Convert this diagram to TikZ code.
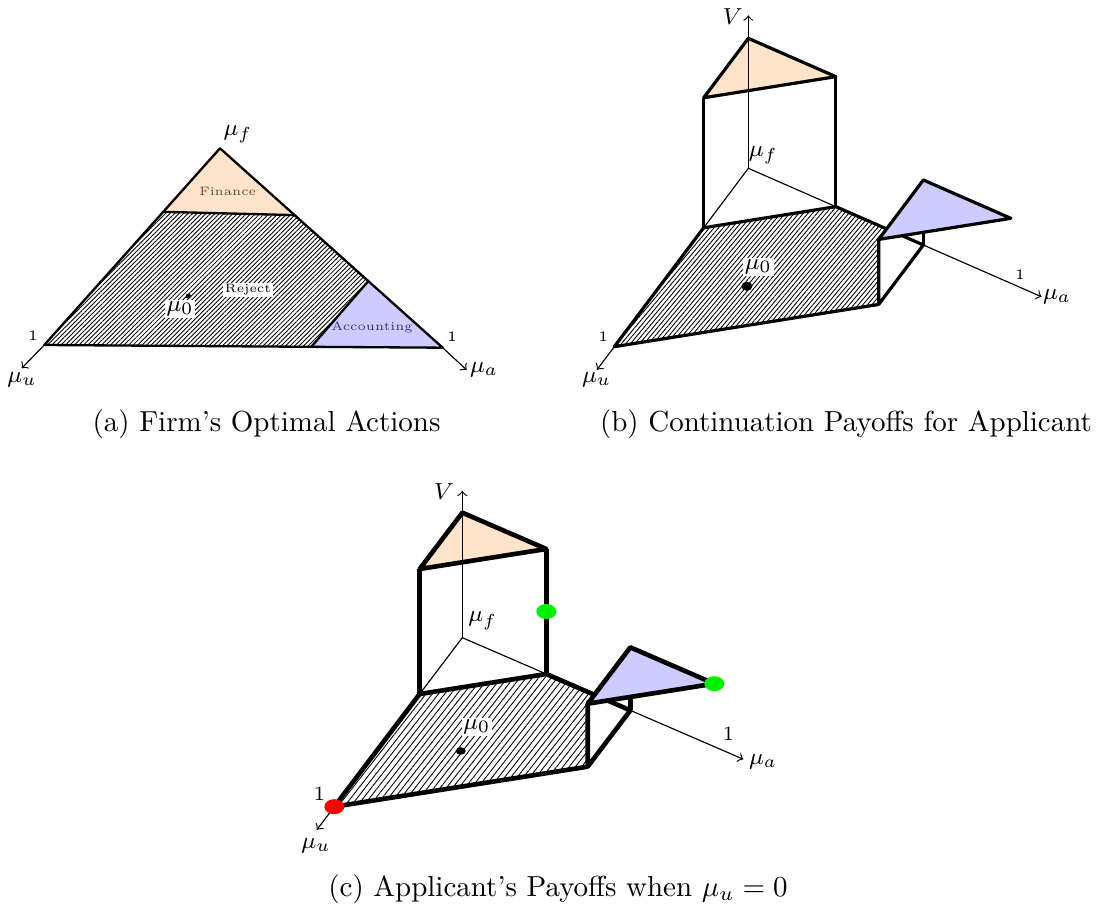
\documentclass[tikz,border=0pt]{standalone}
\usetikzlibrary{calc,patterns.meta}
\definecolor{finfill}{RGB}{255,228,202}
\definecolor{accfill}{RGB}{204,204,255}
\definecolor{fintext}{RGB}{100,72,50}
\definecolor{acctext}{RGB}{55,55,110}
\definecolor{dotgreen}{RGB}{0,240,0}
\definecolor{dotred}{RGB}{250,0,0}
\tikzset{
  edgeA/.style={thick, line join=round},
  edgeB/.style={line width=1.1pt, line join=round},
  edgeC/.style={line width=1.6pt, line join=round},
  axisline/.style={thin, ->, >=to},
  lab/.style={font=\footnotesize, inner sep=1pt},
  tinylab/.style={font=\tiny, inner sep=1pt},
  regionlab/.style={font=\fontsize{4.2}{5}\selectfont, inner sep=0.8pt},
  smalllab/.style={font=\scriptsize, inner sep=1pt},
  caplab/.style={font=\normalsize, inner sep=0pt},
  wbox/.style={fill=white, inner sep=0.6pt},
  hatchA/.style={pattern={Lines[angle=45,distance=1.1pt,line width=0.3pt]}},
  hatchB/.style={pattern={Lines[angle=50,distance=1.2pt,line width=0.3pt]}},
  hatchC/.style={pattern={Lines[angle=52,distance=1.7pt,line width=0.3pt]}},
}
\begin{document}
\begin{tikzpicture}[x=0.345pt, y=-0.345pt]
\useasboundingbox (0,0) rectangle (1097,911);

% ================= Panel (a) =================
\coordinate (Fa) at (220,148.3);
\coordinate (Ua) at (44.3,345);
\coordinate (Aa) at (442.7,347.7);
\coordinate (FUa) at ($(Fa)!0.323!(Ua)$);
\coordinate (FAa) at ($(Fa)!0.335!(Aa)$);
\coordinate (AFa) at ($(Aa)!0.334!(Fa)$);
\coordinate (AUa) at ($(Aa)!0.33!(Ua)$);
\coordinate (UaTip) at (21.7,368.3);
\coordinate (AaTip) at (466.7,370);

\fill[finfill] (Fa) -- (FUa) -- (FAa) -- cycle;
\fill[accfill] (Aa) -- (AFa) -- (AUa) -- cycle;
\fill[hatchA] (FUa) -- (FAa) -- (AFa) -- (AUa) -- (Ua) -- cycle;
\node[regionlab, text=fintext] (finA) at (227.7,191) {Finance};
\node[regionlab, text=acctext] (accA) at (372,327.3) {Accounting};
\node[regionlab, wbox] (rejA) at (248,290) {Reject};
\draw[edgeA] (Fa) -- (Ua) -- (Aa) -- cycle;
\draw[edgeA] (FUa) -- (FAa);
\draw[edgeA] (AFa) -- (AUa);
\draw[axisline] (Ua) -- (UaTip);
\draw[axisline] (Aa) -- (AaTip);
\node[lab] (mufA) at (238,134) {$\mu_f$};
\node[lab] (muuA) at (22,380) {$\mu_u$};
\node[lab] (muaA) at (484,370) {$\mu_a$};
\node[tinylab] (oneUA) at (33,336) {1};
\node[tinylab] (oneAA) at (452,337) {1};
\fill (188.3,296) circle[radius=2.6] coordinate (mu0A);
\node[lab, wbox] (mu0LA) at (180,309) {$\mu_0$};

% ================= Panel (b) =================
\coordinate (Ob) at (748.33,168.33);
\coordinate (Ub) at (614.33,346.67);
\coordinate (Ab) at (1010.83,283.33);
\coordinate (F1b) at ($(Ob)!0.3333!(Ub)$);
\coordinate (F2b) at ($(Ob)!0.3333!(Ab)$);
\coordinate (P2b) at ($(Ob)!0.6667!(Ab)$);
\coordinate (Qb) at ($(Ab)!0.3333!(Ub)$);
\coordinate (ObT) at ($(Ob)+(0,-130)$);
\coordinate (F1bT) at ($(F1b)+(0,-130)$);
\coordinate (F2bT) at ($(F2b)+(0,-130)$);
\coordinate (P2bT) at ($(P2b)+(0,-65)$);
\coordinate (QbT) at ($(Qb)+(0,-65)$);
\coordinate (AbT) at ($(Ab)+(0,-65)$);
\coordinate (VbTip) at ($(Ob)+(0,-153)$);
\coordinate (UbTip) at ($(Ob)!1.13!(Ub)$);
\coordinate (AbTip) at ($(Ob)!1.117!(Ab)$);

\draw[axisline] (Ob) -- (UbTip);
\draw[axisline] (Ob) -- (AbTip);
\fill[hatchB] (Ub) -- (F1b) -- (F2b) -- (P2b) -- (Qb) -- cycle;
\fill[white] (Qb) -- (P2b) -- (P2bT) -- (QbT) -- cycle;
\fill[finfill] (ObT) -- (F1bT) -- (F2bT) -- cycle;
\draw[axisline] (Ob) -- (VbTip);
\draw[edgeB] (Qb) -- (Ub) -- (F1b) -- (F2b) -- (P2b) -- (Qb) -- (QbT);
\draw[edgeB] (P2b) -- (P2bT);
\draw[edgeB] (F1b) -- (F1bT);
\draw[edgeB] (F2b) -- (F2bT);
\draw[edgeB] (ObT) -- (F1bT) -- (F2bT) -- cycle;
\filldraw[fill=accfill, edgeB] (P2bT) -- (QbT) -- (AbT) -- cycle;
\node[lab] (Vb) at (732.7,16.7) {$V$};
\node[lab] (mufB) at (763.3,155) {$\mu_f$};
\node[lab] (muuB) at (596.7,380) {$\mu_u$};
\node[lab] (muaB) at (1057,297) {$\mu_a$};
\node[tinylab] (oneUB) at (603.3,336.7) {1};
\node[tinylab] (oneAB) at (1020,275) {1};
\fill (746.9,286.3) ellipse[x radius=5.5, y radius=4.6] coordinate (mu0B);
\node[lab, wbox] (mu0LB) at (758.3,266.7) {$\mu_0$};

% ================= Panel (c) =================
\coordinate (Oc) at (462.33,637.67);
\coordinate (Uc) at ($(Oc)+(-128,169)$);
\coordinate (Ac) at ($(Oc)+(252,109)$);
\coordinate (F1c) at ($(Oc)!0.3333!(Uc)$);
\coordinate (F2c) at ($(Oc)!0.3333!(Ac)$);
\coordinate (P2c) at ($(Oc)!0.6667!(Ac)$);
\coordinate (Qc) at ($(Ac)!0.3333!(Uc)$);
\coordinate (OcT) at ($(Oc)+(0,-125)$);
\coordinate (F1cT) at ($(F1c)+(0,-125)$);
\coordinate (F2cT) at ($(F2c)+(0,-125)$);
\coordinate (P2cT) at ($(P2c)+(0,-63)$);
\coordinate (QcT) at ($(Qc)+(0,-63)$);
\coordinate (AcT) at ($(Ac)+(0,-63)$);
\coordinate (VcTip) at ($(Oc)+(0,-147)$);
\coordinate (UcTip) at ($(Oc)!1.137!(Uc)$);
\coordinate (AcTip) at ($(Oc)!1.115!(Ac)$);
\coordinate (F2cMid) at ($(F2c)!0.5!(F2cT)$);

\draw[axisline] (Oc) -- (UcTip);
\draw[axisline] (Oc) -- (AcTip);
\fill[hatchC] (Uc) -- (F1c) -- (F2c) -- (P2c) -- (Qc) -- cycle;
\fill[white] (Qc) -- (P2c) -- (P2cT) -- (QcT) -- cycle;
\fill[finfill] (OcT) -- (F1cT) -- (F2cT) -- cycle;
\draw[axisline] (Oc) -- (VcTip);
\draw[edgeC] (Qc) -- (Uc) -- (F1c) -- (F2c) -- (P2c) -- (Qc) -- (QcT);
\draw[edgeC] (P2c) -- (P2cT);
\draw[edgeC] (F1c) -- (F1cT);
\draw[edgeC] (F2c) -- (F2cT);
\draw[edgeC] (OcT) -- (F1cT) -- (F2cT) -- cycle;
\filldraw[fill=accfill, edgeC] (P2cT) -- (QcT) -- (AcT) -- cycle;
\node[lab] (Vc) at (444,491.7) {$V$};
\node[lab] (mufC) at (482.7,620.7) {$\mu_f$};
\node[lab] (muuC) at (316,846) {$\mu_u$};
\node[lab] (muaC) at (763,761.7) {$\mu_a$};
\node[smalllab] (oneUC) at (319.3,793.3) {1};
\node[smalllab] (oneAC) at (728.3,733.3) {1};
\fill (460.7,751) ellipse[x radius=5, y radius=3.8] coordinate (mu0C);
\node[lab, wbox] (mu0LC) at (476.7,726.7) {$\mu_0$};
\fill[dotred] (Uc) ellipse[x radius=10, y radius=7.5];
\fill[dotgreen] (F2cMid) ellipse[x radius=10, y radius=7.5];
\fill[dotgreen] (AcT) ellipse[x radius=10, y radius=7.5];

% ================= Captions =================
\node[caplab] (capA) at (266.5,424) {(a) Firm's Optimal Actions};
\node[caplab] (capB) at (846,424) {(b) Continuation Payoffs for Applicant};
\node[caplab] (capC) at (558,889) {(c) Applicant's Payoffs when $\mu_u = 0$};
\end{tikzpicture}
\end{document}
